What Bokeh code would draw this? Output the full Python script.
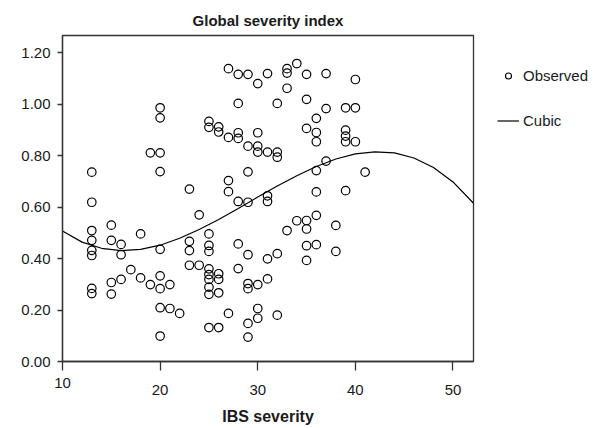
from bokeh.plotting import figure
from bokeh.layouts import row
from bokeh.models import Range1d, FixedTicker, PrintfTickFormatter, Legend, LegendItem
from bokeh.embed import file_html
from bokeh.resources import INLINE

title_text = "Global severity index"
x_label = "IBS severity"
x_ticks = [10, 20, 30, 40, 50]
y_ticks = [0.0, 0.2, 0.4, 0.6, 0.8, 1.0, 1.2]
legend_labels = ["Observed", "Cubic"]

obs_x = ([13] * 8 + [15] * 4 + [16] * 3 + [17] + [18] * 2 + [19] * 2 + [20] * 9 + [21] * 2 + [22]
         + [23] * 4 + [24] * 2 + [25] * 11 + [26] * 6 + [27] * 5 + [28] * 7 + [29] * 9 + [30] * 7
         + [31] * 6 + [32] * 5 + [33] * 4 + [34] * 2 + [35] * 7 + [36] * 7 + [37] * 3 + [38] * 2
         + [39] * 5 + [40] * 3 + [41])
obs_y = ([0.736, 0.619, 0.509, 0.471, 0.432, 0.412, 0.284, 0.264]
         + [0.530, 0.471, 0.307, 0.262]
         + [0.455, 0.415, 0.319]
         + [0.357]
         + [0.496, 0.325]
         + [0.811, 0.299]
         + [0.986, 0.947, 0.811, 0.738, 0.436, 0.333, 0.283, 0.209, 0.099]
         + [0.299, 0.206]
         + [0.187]
         + [0.670, 0.467, 0.431, 0.374]
         + [0.570, 0.374]
         + [0.933, 0.910, 0.496, 0.451, 0.428, 0.360, 0.338, 0.319, 0.289, 0.261, 0.132]
         + [0.912, 0.892, 0.341, 0.319, 0.267, 0.132]
         + [1.138, 0.871, 0.703, 0.660, 0.187]
         + [1.116, 1.003, 0.889, 0.867, 0.622, 0.457, 0.361]
         + [1.116, 0.837, 0.737, 0.619, 0.415, 0.303, 0.283, 0.148, 0.095]
         + [1.080, 0.889, 0.837, 0.814, 0.299, 0.206, 0.168]
         + [1.119, 0.814, 0.644, 0.622, 0.399, 0.321]
         + [1.003, 0.814, 0.794, 0.419, 0.180]
         + [1.138, 1.121, 1.062, 0.509]
         + [1.158, 0.547]
         + [1.116, 1.019, 0.906, 0.548, 0.515, 0.450, 0.393]
         + [0.945, 0.890, 0.854, 0.742, 0.659, 0.568, 0.454]
         + [1.119, 0.983, 0.779]
         + [0.529, 0.428]
         + [0.986, 0.899, 0.876, 0.854, 0.664]
         + [1.096, 0.986, 0.854]
         + [0.736])

cubic_x = [10, 12, 14, 16, 18, 20, 22, 24, 26, 28, 30, 32, 34, 36, 38, 40, 42, 44, 46, 48, 50, 52.1]
cubic_y = [0.507, 0.464, 0.440, 0.431, 0.436, 0.452, 0.479, 0.513, 0.552, 0.595, 0.639,
           0.682, 0.722, 0.758, 0.787, 0.807, 0.815, 0.811, 0.791, 0.754, 0.698, 0.615]

FONT = "Liberation Sans"
TXT = "#1a1a1a"
EDGE = "#333333"

p = figure(width=478, height=428, output_backend="svg", toolbar_location=None,
           x_range=Range1d(10, 52.1), y_range=Range1d(0, 1.267),
           min_border_left=62, min_border_right=5, min_border_top=35, min_border_bottom=66)
p.background_fill_color = "white"
p.border_fill_color = "white"
p.outline_line_color = EDGE
p.outline_line_width = 1.3
p.xgrid.visible = False
p.ygrid.visible = False

p.title.text = title_text
p.title.align = "center"
p.title.text_font = FONT
p.title.text_font_size = "15px"
p.title.text_font_style = "bold"
p.title.text_color = TXT
p.title.standoff = 14

for ax in (p.xaxis[0], p.yaxis[0]):
    ax.axis_line_color = EDGE
    ax.axis_line_width = 1.3
    ax.major_tick_line_color = EDGE
    ax.major_tick_line_width = 1.3
    ax.minor_tick_line_color = None
    ax.major_tick_in = 0
    ax.major_label_text_font = FONT
    ax.major_label_text_font_size = "15px"
    ax.major_label_text_color = TXT

p.xaxis.ticker = FixedTicker(ticks=x_ticks)
p.xaxis.major_tick_out = 9
p.xaxis.major_label_standoff = 3
p.xaxis.major_label_text_line_height = 0.45
p.xaxis.major_label_overrides = {t: ("%d" % t if t == x_ticks[0] else "\n%d" % t) for t in x_ticks}
p.xaxis.axis_label = x_label
p.xaxis.axis_label_text_font = FONT
p.xaxis.axis_label_text_font_size = "16px"
p.xaxis.axis_label_text_font_style = "bold"
p.xaxis.axis_label_text_color = TXT
p.xaxis.axis_label_standoff = 7

p.yaxis.ticker = FixedTicker(ticks=y_ticks)
p.yaxis.formatter = PrintfTickFormatter(format="%.2f")
p.yaxis.major_tick_out = 5
p.yaxis.major_label_standoff = 7

p.scatter(obs_x, obs_y, marker="circle", size=8.5, fill_color=None,
          line_color="black", line_width=1.2)
p.line(cubic_x, cubic_y, line_color="black", line_width=1.2)

# legend panel to the right of the plot box; its renderers use the same data but
# fall outside this panel's ranges, so only the legend shows
q = figure(width=132, height=428, output_backend="svg", toolbar_location=None,
           x_range=Range1d(0, 1), y_range=Range1d(0, 1),
           min_border_left=0, min_border_right=0, min_border_top=35, min_border_bottom=66)
q.axis.visible = False
q.grid.visible = False
q.outline_line_color = None
q.background_fill_color = "white"
q.border_fill_color = "white"
lg_pts = q.scatter(obs_x, obs_y, marker="circle", size=6, fill_color=None,
                   line_color="black", line_width=1.1)
lg_line = q.line(cubic_x, cubic_y, line_color="black", line_width=1.2)

legend = Legend(items=[LegendItem(label=legend_labels[0], renderers=[lg_pts]),
                       LegendItem(label=legend_labels[1], renderers=[lg_line])],
                location=(19, 232), orientation="vertical",
                glyph_width=22, glyph_height=15, label_height=15, label_standoff=4,
                spacing=28, padding=0, margin=0,
                border_line_color=None, background_fill_alpha=0,
                label_text_font=FONT, label_text_font_size="15px", label_text_color=TXT)
q.add_layout(legend, "center")

layout = row(p, q, spacing=0)
open("out.html", "w").write(file_html(layout, INLINE))
